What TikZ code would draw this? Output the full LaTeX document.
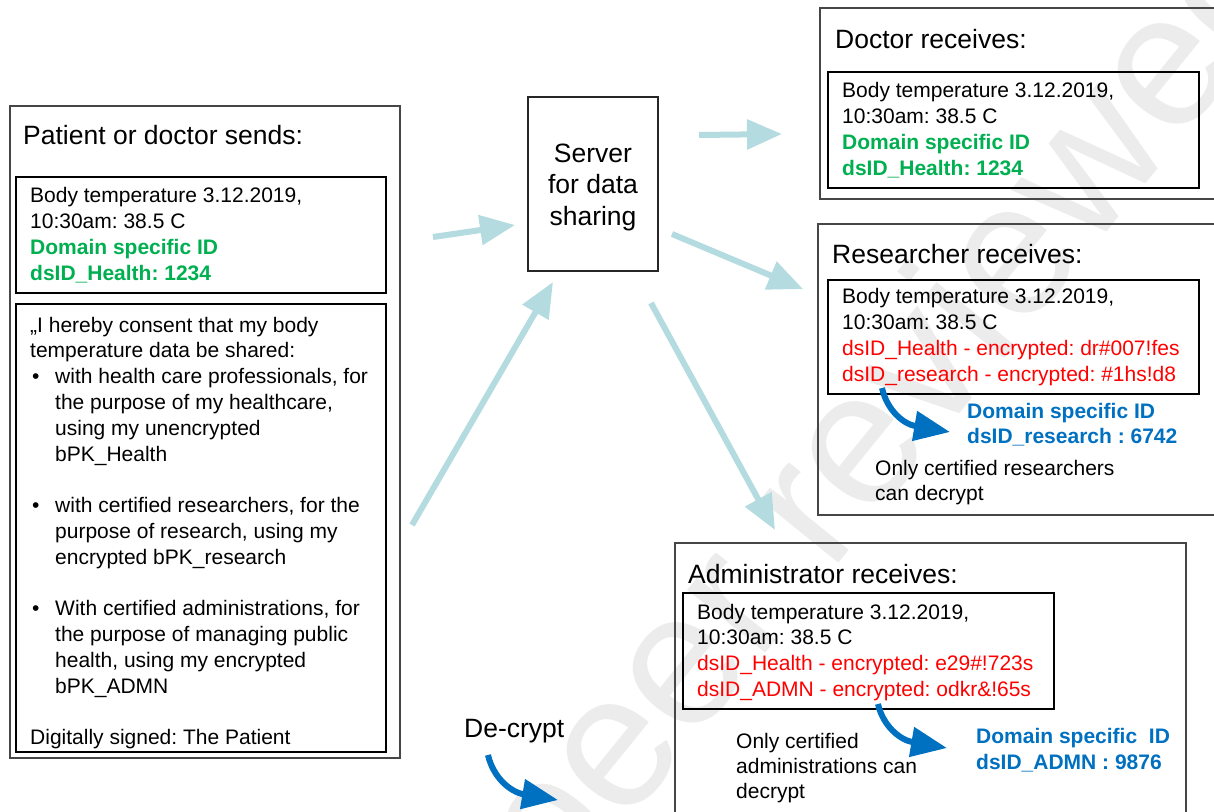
\documentclass[tikz,border=0pt]{standalone}
\usepackage{fontspec}
\setmainfont{Liberation Sans}
\usetikzlibrary{arrows.meta}
\definecolor{flowteal}{RGB}{180,219,223}
\definecolor{dsgreen}{RGB}{0,176,80}
\definecolor{dsred}{RGB}{255,0,0}
\definecolor{dsblue}{RGB}{0,112,192}
\definecolor{wmgray}{RGB}{236,236,236}
\definecolor{outerline}{RGB}{70,70,70}
\newcommand{\bitem}{\makebox[25pt][l]{\hspace{2pt}•}}
\newcommand{\bcont}{\hspace*{25pt}}
\frenchspacing
\begin{document}
\begin{tikzpicture}[x=1pt,y=-1pt,
  outerbox/.style={draw=outerline, line width=1.2pt, rectangle, inner sep=0, outer sep=0, anchor=north west},
  innerbox/.style={draw=black, line width=2pt, rectangle, inner sep=0, outer sep=0, anchor=north west},
  titletext/.style={anchor=base west, inner sep=0, font=\fontsize{26.5}{32}\selectfont},
  bodytext/.style={anchor=base west, inner sep=0, font=\fontsize{21}{26}\selectfont},
  flow/.style={draw=flowteal, line width=6pt, -{Triangle[length=35pt,width=29pt]}},
  decrypt/.style={draw=dsblue, line width=6pt, -{Triangle[length=36pt,width=29pt]}},
]
\useasboundingbox (0,0) rectangle (1214,811);
\clip (0,0) rectangle (1214,811);

% watermark
\node[rotate=51, text=wmgray, font=\fontsize{190}{190}\selectfont, inner sep=0] (wmark) at (895,415) {peer reviewed};

% ---------- left: sender ----------
\node[outerbox, minimum width=390pt, minimum height=652pt] (sendbox) at (10,106) {};
\node[titletext] (sendtitle) at (23,144) {Patient or doctor sends:};
\node[innerbox, minimum width=370pt, minimum height=116pt] (senddata) at (16,177) {};
\node[bodytext] (senddatatext) at (30,202) {\parbox[t]{400pt}{Body temperature 3.12.2019,\\
10:30am: 38.5 C\\
\textcolor{dsgreen}{\textbf{Domain specific ID}}\\
\textcolor{dsgreen}{\textbf{dsID\_Health: 1234}}}};
\node[innerbox, minimum width=370pt, minimum height=448pt] (consent) at (16,304) {};
\node[bodytext, font=\fontsize{21}{25.8}\selectfont] (consenttext) at (30,332) {\parbox[t]{400pt}{„I hereby consent that my body\\
temperature data be shared:\\
\bitem with health care professionals, for\\
\bcont the purpose of my healthcare,\\
\bcont using my unencrypted\\
\bcont bPK\_Health\\[25.8pt]
\bitem with certified researchers, for the\\
\bcont purpose of research, using my\\
\bcont encrypted bPK\_research\\[25.8pt]
\bitem With certified administrations, for\\
\bcont the purpose of managing public\\
\bcont health, using my encrypted\\
\bcont bPK\_ADMN\\[25.8pt]
Digitally signed: The Patient}};

% ---------- server ----------
\node[outerbox, line width=1.2pt, draw=black!85, minimum width=130pt, minimum height=174pt] (server) at (528,97) {};
\node[anchor=base, inner sep=0, font=\fontsize{26.5}{31.5}\selectfont] (servertext) at (593,162) {\parbox[t]{126pt}{\centering Server\\for data\\sharing}};

% ---------- doctor ----------
\node[outerbox, minimum width=410pt, minimum height=191pt] (docbox) at (820,8) {};
\node[titletext] (doctitle) at (835,48) {Doctor receives:};
\node[innerbox, minimum width=371pt, minimum height=116pt] (docdata) at (828,72) {};
\node[bodytext] (docdatatext) at (842,97) {\parbox[t]{400pt}{Body temperature 3.12.2019,\\
10:30am: 38.5 C\\
\textcolor{dsgreen}{\textbf{Domain specific ID}}\\
\textcolor{dsgreen}{\textbf{dsID\_Health: 1234}}}};

% ---------- researcher ----------
\node[outerbox, minimum width=412pt, minimum height=291pt] (resbox) at (818,224) {};
\node[titletext] (restitle) at (832,263) {Researcher receives:};
\node[innerbox, minimum width=371pt, minimum height=114pt] (resdata) at (828,280) {};
\node[bodytext] (resdatatext) at (842,303) {\parbox[t]{400pt}{Body temperature 3.12.2019,\\
10:30am: 38.5 C\\
\textcolor{dsred}{dsID\_Health - encrypted: dr\#007!fes}\\
\textcolor{dsred}{dsID\_research - encrypted: \#1hs!d8}}};
\node[bodytext, font=\fontsize{21}{25.5}\selectfont, text=dsblue] (resid) at (967,418) {\parbox[t]{300pt}{\textbf{Domain specific ID}\\\textbf{dsID\_research : 6742}}};
\node[bodytext, font=\fontsize{21}{25}\selectfont] (resnote) at (875,475) {\parbox[t]{300pt}{Only certified researchers\\can decrypt}};

% ---------- administrator ----------
\node[outerbox, minimum width=511pt, minimum height=297pt] (admbox) at (675,543) {};
\node[titletext] (admtitle) at (688,583) {Administrator receives:};
\node[innerbox, minimum width=371pt, minimum height=116pt] (admdata) at (683,593) {};
\node[bodytext, font=\fontsize{21}{25.7}\selectfont] (admdatatext) at (697,619) {\parbox[t]{400pt}{Body temperature 3.12.2019,\\
10:30am: 38.5 C\\
\textcolor{dsred}{dsID\_Health - encrypted: e29\#!723s}\\
\textcolor{dsred}{dsID\_ADMN - encrypted: odkr\&!65s}}};
\node[bodytext, font=\fontsize{21}{26.5}\selectfont, text=dsblue] (admid) at (976,743) {\parbox[t]{300pt}{\textbf{Domain specific \ ID}\\\textbf{dsID\_ADMN : 9876}}};
\node[bodytext, font=\fontsize{21}{25}\selectfont] (admnote) at (736,748) {\parbox[t]{300pt}{Only certified\\administrations can\\decrypt}};

% ---------- de-crypt legend ----------
\node[titletext] (decrypttext) at (464,737) {De-crypt};

% ---------- flow arrows ----------
\coordinate (a1s) at (433,237); \coordinate (a1e) at (515,225);
\coordinate (a2s) at (699,135); \coordinate (a2e) at (782,134);
\coordinate (a3s) at (672,234); \coordinate (a3e) at (803,289);
\coordinate (a4s) at (412,525); \coordinate (a4e) at (553,282);
\coordinate (a5s) at (651,303); \coordinate (a5e) at (775,530);
\draw[flow] (a1s) -- (a1e);
\draw[flow] (a2s) -- (a2e);
\draw[flow] (a3s) -- (a3e);
\draw[flow] (a4s) -- (a4e);
\draw[flow] (a5s) -- (a5e);

% ---------- decrypt arrows ----------
\coordinate (d1s) at (882,388); \coordinate (d1e) at (950,432);
\coordinate (d2s) at (878,704); \coordinate (d2e) at (947,748);
\coordinate (d3s) at (488,755); \coordinate (d3e) at (558,800);
\draw[decrypt] (d1s) .. controls (887,410) and (903,424) .. (d1e);
\draw[decrypt] (d2s) .. controls (883,726) and (900,740) .. (d2e);
\draw[decrypt] (d3s) .. controls (493,777) and (510,792) .. (d3e);
\end{tikzpicture}
\end{document}
